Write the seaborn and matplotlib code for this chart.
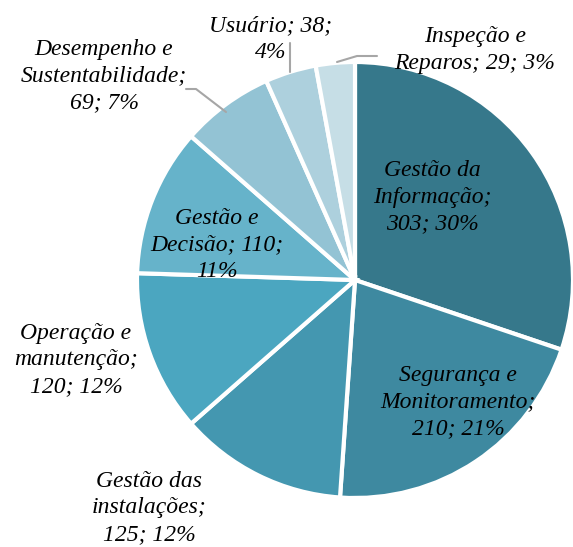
import numpy as np
import seaborn as sns
import matplotlib.pyplot as plt

sns.set_theme(style="white")
plt.rcParams['font.family'] = ['Liberation Serif', 'DejaVu Serif']

categories = ["Gestão da\nInformação", "Segurança e\nMonitoramento", "Gestão das\ninstalações",
              "Operação e\nmanutenção", "Gestão e\nDecisão", "Desempenho e\nSustentabilidade",
              "Usuário", "Inspeção e\nReparos"]
values = [303, 210, 125, 120, 110, 69, 38, 29]
percents = [30, 21, 12, 12, 11, 7, 4, 3]
colors = ["#36788B", "#3E89A0", "#4497B0", "#4BA6C0", "#66B3CA", "#93C3D4", "#ADD0DD", "#C6DEE6"]

# texto de cada rótulo (quebras de linha como no original)
label_texts = [
    "Gestão da\nInformação;\n303; 30%",
    "Segurança e\nMonitoramento;\n210; 21%",
    "Gestão das\ninstalações;\n125; 12%",
    "Operação e\nmanutenção;\n120; 12%",
    "Gestão e\nDecisão; 110;\n11%",
    "Desempenho e\nSustentabilidade;\n69; 7%",
    "Usuário; 38;\n4%",
    "Inspeção e\nReparos; 29; 3%",
]
# posição dos rótulos em pixels (x, y a partir do topo)
label_pos = [(432, 197), (458, 402), (149, 508), (76, 360), (217, 245), (104, 76), (271, 39), (475, 50)]

W, H = 573, 547
fig = plt.figure(figsize=(W / 100, H / 100), dpi=100)
ax = fig.add_axes([0, 0, 1, 1])

cx, cy, r = 355, H - 280, 218
ax.pie(values, colors=colors, startangle=90, counterclock=False, center=(cx, cy), radius=r,
       wedgeprops=dict(edgecolor="white", linewidth=3), frame=True)
ax.set_xlim(0, W)
ax.set_ylim(0, H)
ax.set_aspect("equal")
ax.axis("off")

for txt, (x, y) in zip(label_texts, label_pos):
    ax.text(x, H - y, txt, ha="center", va="center", fontsize=17, style="italic",
            color="black", linespacing=1.33)

# linhas de chamada
lead = "#A6A6A6"
ax.plot([186, 196, 226], [H - 89, H - 89, H - 112], color=lead, lw=1.5)
ax.plot([290, 290], [H - 43, H - 72], color=lead, lw=1.5)
ax.plot([337, 357, 377], [H - 62, H - 56, H - 56], color=lead, lw=1.5)

plt.savefig("out.png", dpi=100)
